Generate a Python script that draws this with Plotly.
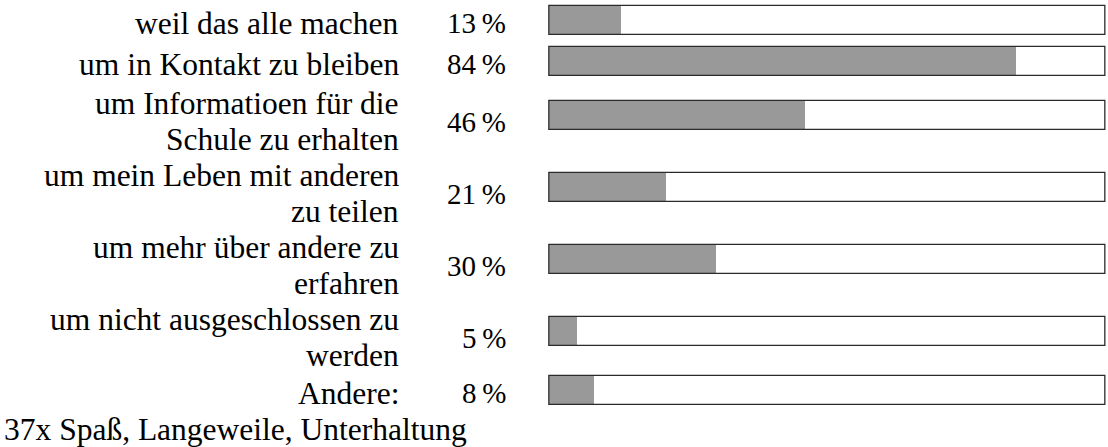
import plotly.graph_objects as go

# ---- data ----
categories = [
    "weil das alle machen",
    "um in Kontakt zu bleiben",
    "um Informatioen für die\nSchule zu erhalten",
    "um mein Leben mit anderen\nzu teilen",
    "um mehr über andere zu\nerfahren",
    "um nicht ausgeschlossen zu\nwerden",
    "Andere:",
]
percentages = [13, 84, 46, 21, 30, 5, 8]
note_text = "37x Spaß, Langeweile, Unterhaltung"

# ---- layout constants ----
W, H = 1108, 447
LINE = 36            # line pitch (px)
SINGLE_EXTRA = 5     # extra room for single-line rows
BAR_H = 29
BAR_RAISE = 2.5      # bars sit a little higher in multi-line rows
TEXT_SHIFT_1 = 2.5   # text offset for single-line rows
TEXT_SHIFT_N = 3.5   # text offset for multi-line rows
LABEL_RIGHT = 401
PCT_RIGHT = 508
BAR_LEFT, BAR_RIGHT = 549.7, 1105.3
PAD = 0.4            # axis padding (in %) so frame edges are not clipped
FAMILY = "Liberation Serif, Times New Roman, serif"
FONT = dict(family=FAMILY, size=31.5, color="#000000")
PCT_FONT = dict(family=FAMILY, size=29, color="#000000")

row_mid, bar_y, nlines = [], [], []
top = 0.0
for lab in categories:
    n = len(lab.split("\n"))
    h = n * LINE + (SINGLE_EXTRA if n == 1 else 0)
    mid = top + h / 2
    row_mid.append(mid)
    bar_y.append(mid - BAR_RAISE * (n - 1))
    nlines.append(n)
    top += h

fig = go.Figure()
fig.add_trace(go.Bar(
    x=percentages, y=bar_y, orientation="h", width=BAR_H,
    marker=dict(color="#999999", line=dict(width=0)),
    hoverinfo="skip", showlegend=False,
))
fig.add_trace(go.Bar(
    x=[100] * len(percentages), y=bar_y, orientation="h", width=BAR_H,
    marker=dict(color="rgba(0,0,0,0)", line=dict(color="#2b2b2b", width=1.3)),
    hoverinfo="skip", showlegend=False,
))

annotations = []
for lab, pct, c, n in zip(categories, percentages, row_mid, nlines):
    shift = TEXT_SHIFT_1 if n == 1 else TEXT_SHIFT_N
    for j, ln in enumerate(lab.split("\n")):
        annotations.append(dict(
            text=ln, x=LABEL_RIGHT / W, xref="paper", xanchor="right",
            y=c + shift + (j - (n - 1) / 2) * LINE, yref="y", yanchor="middle",
            showarrow=False, font=FONT,
        ))
    annotations.append(dict(
        text=f"{pct}\u2009%", x=PCT_RIGHT / W, xref="paper", xanchor="right",
        y=c + shift, yref="y", yanchor="middle",
        showarrow=False, font=PCT_FONT,
    ))
annotations.append(dict(
    text=note_text, x=2 / W, xref="paper", xanchor="left",
    y=row_mid[-1] + TEXT_SHIFT_1 + LINE, yref="y", yanchor="middle",
    showarrow=False, font=FONT,
))

px_per_unit = (BAR_RIGHT - BAR_LEFT) / 100.0
fig.update_layout(
    width=W, height=H, autosize=False,
    margin=dict(l=0, r=0, t=0, b=0, pad=0),
    paper_bgcolor="white", plot_bgcolor="rgba(0,0,0,0)",
    barmode="overlay", bargap=0,
    xaxis=dict(domain=[(BAR_LEFT - PAD * px_per_unit) / W,
                       (BAR_RIGHT + PAD * px_per_unit) / W],
               range=[-PAD, 100 + PAD], visible=False, fixedrange=True),
    yaxis=dict(range=[H, 0], visible=False, fixedrange=True),
    annotations=annotations,
    showlegend=False,
)

fig.write_html(
    "out.html",
    config={"displayModeBar": False},
    post_script="document.body.style.margin='0px';document.body.style.overflow='hidden';",
)
